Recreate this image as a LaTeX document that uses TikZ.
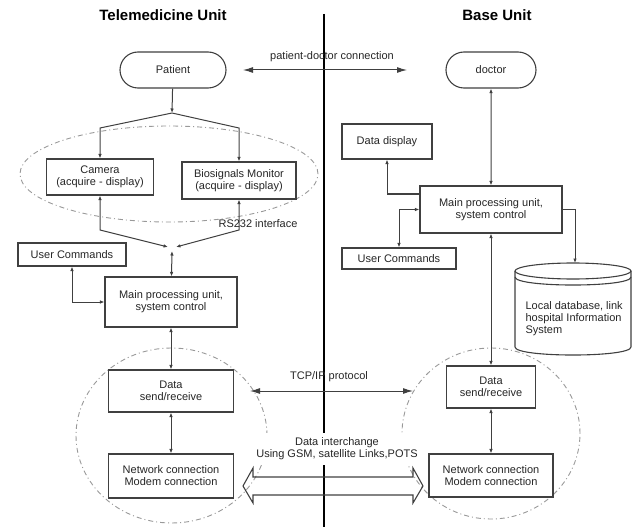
\documentclass[tikz,border=0pt]{standalone}
\usepackage{fontspec}
\setmainfont{Liberation Sans}
\usetikzlibrary{shapes.misc,arrows.meta}
\begin{document}
\begin{tikzpicture}[x=1pt,y=-1pt,
  every node/.style={font=\fontsize{11}{12}\selectfont, text=black!85},
  box/.style={draw=black!75, line width=1.1pt, fill=white, inner sep=0pt, align=center},
  con/.style={draw=black!75, line width=1pt},
  grp/.style={draw=black!40, line width=0.9pt, dash pattern=on 5pt off 3pt on 1pt off 3pt},
  smt/.tip={Latex[length=4.5pt,width=3.5pt]},
  bigt/.tip={Latex[length=10pt,width=6pt]},
  ttl/.style={font=\bfseries\fontsize{15}{18}\selectfont, text=black}]
\useasboundingbox (0,0) rectangle (633,527);

% titles
\node[ttl] (t1) at (163,15) {Telemedicine Unit};
\node[ttl] (t2) at (497,15) {Base Unit};

% divider
\coordinate (divT) at (324,14);
\coordinate (divB) at (324,527);
\draw[line width=2.6pt, black] (divT) -- (divB);

% group outlines
\draw[grp] (169,174) ellipse [x radius=149pt, y radius=48pt];
\draw[grp] (171.5,435.5) ellipse [x radius=95.5pt, y radius=87.5pt];
\draw[grp] (491,433.5) ellipse [x radius=89pt, y radius=85.5pt];

% left side nodes
\node[box, rounded rectangle, minimum width=106pt, minimum height=36pt] (patient) at (173,70) {Patient};
\node[box, minimum width=107pt, minimum height=36pt] (camera) at (100,177) {Camera\\(acquire - display)};
\node[box, minimum width=114pt, minimum height=37pt] (bio) at (239,180.5) {Biosignals Monitor\\(acquire - display)};
\node[box, minimum width=108pt, minimum height=23pt] (ucl) at (72,254.5) {User Commands};
\node[box, minimum width=132pt, minimum height=50pt] (mainl) at (171,302) {Main processing unit,\\system control};
\node[box, minimum width=125pt, minimum height=42pt] (datal) at (171,391) {Data\\send/receive};
\node[box, minimum width=125pt, minimum height=44pt] (netl) at (171,476) {Network connection\\Modem connection};

% right side nodes
\node[box, rounded rectangle, minimum width=90pt, minimum height=36pt] (doctor) at (491,70) {doctor};
\node[box, minimum width=90pt, minimum height=35pt] (disp) at (387,141.5) {Data display};
\node[box, minimum width=142pt, minimum height=47pt] (mainr) at (491,209.5) {Main processing unit,\\system control};
\node[box, minimum width=114pt, minimum height=21pt] (ucr) at (399,258.5) {User Commands};
\node[box, minimum width=89pt, minimum height=42pt] (datar) at (491,387) {Data\\send/receive};
\node[box, minimum width=124pt, minimum height=43pt] (netr) at (491,475.5) {Network connection\\Modem connection};

% database cylinder
\draw[con, line width=1.1pt, fill=white] (515,271) -- (515,347) .. controls (515,357.7) and (631,357.7) .. (631,347) -- (631,271);
\draw[con, line width=1.1pt, fill=white] (573,271) ellipse [x radius=58pt, y radius=8pt];
\draw[con, line width=1.1pt] (515,277) .. controls (515,287.7) and (631,287.7) .. (631,277);
\coordinate (dbtop) at (575,263);
\node[align=left, anchor=west] (dbtext) at (522,319) {Local database, link\\hospital Information\\System};

% coordinates
\coordinate (brT) at (172,113);
\coordinate (jLa) at (168,247);
\coordinate (jLb) at (176,247);
\coordinate (jL) at (172,251);
\coordinate (pdL) at (243,70);
\coordinate (pdR) at (407,70);
\coordinate (tcpL) at (250,391);
\coordinate (tcpR) at (413,391);

% left connectors
\draw[con,-smt] (patient) -- (brT);
\draw[con,-smt] (brT) -- (100,128) -- (camera);
\draw[con,-smt] (brT) -- (239,128) -- (bio);
\draw[con,smt-smt] (camera) -- (100,230) -- (jLa);
\draw[con,smt-smt] (bio) -- (239,230) -- (jLb);
\draw[con,smt-smt] (jL) -- (mainl);
\draw[con,smt-smt] (ucl) -- (72,302) -- (mainl);
\draw[con,smt-smt] (mainl) -- (datal);
\draw[con,smt-smt] (datal) -- (netl);

% right connectors
\draw[con,smt-smt] (doctor) -- (mainr);
\draw[con,-smt] ([yshift=15.5pt]mainr.west) -| (disp);
\draw[con,smt-smt] (mainr.west) -| (ucr);
\draw[con,-smt] (mainr.east) -| (dbtop);
\draw[con,smt-smt] (mainr) -- (datar);
\draw[con,smt-smt] (datar) -- (netr);

% cross connections
\draw[con,bigt-bigt] (pdL) -- (pdR);
\draw[con,bigt-bigt] (tcpL) -- (tcpR);
\node (pdlab) at (332,57) {patient-doctor connection};
\node (rs) at (258,224) {RS232 interface};
\node (tcplab) at (329,377) {TCP/IP protocol};
\node[fill=white, align=center, inner xsep=1pt, inner ysep=5pt] (dilab) at (337,449) {Data interchange\\Using GSM, satellite Links,POTS};

% hollow double arrow
\draw[con, line width=1.1pt] (243,486) -- (253,468) -- (253,477) -- (413,477) -- (413,468) -- (423,486) -- (413,503) -- (413,495) -- (253,495) -- (253,503) -- cycle;
\end{tikzpicture}
\end{document}
